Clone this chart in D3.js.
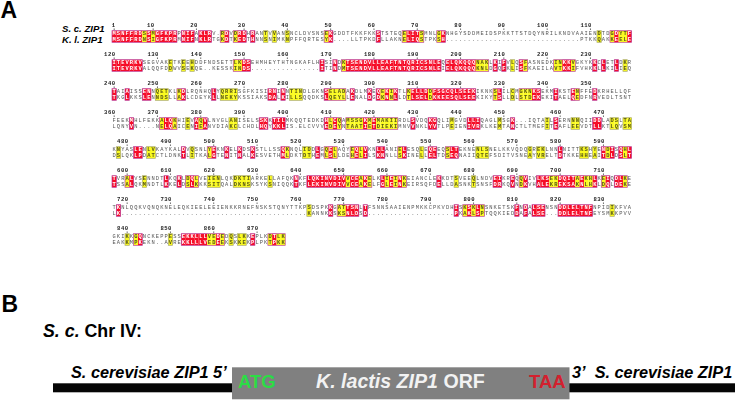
<!DOCTYPE html>
<html><head><meta charset="utf-8">
<script src="https://cdnjs.cloudflare.com/ajax/libs/d3/7.8.5/d3.min.js"></script>
<style>html,body{margin:0;padding:0;background:#fff}svg{display:block}</style>
</head><body><div id="c"></div>
<script>
// Sequences and conservation classes: R = identical, Y = similar, . = none
const seqSc = [
"MSNFFRDSSM GFKPRPNIFA KLRV.RDVDR DHRANTVVAN SNCLDVSNSE KGDDTFKKFK KSTSTEQELI TSMNLGKNHG YSDDMEIDSP KKTTSTDQYN RILKNDVAAI ENDTDGDYTF",
"ITEVRKVSEG VAKETKEEHD DFNDSETTLK DSEHMHEYTH TNGKAFLHIS INDKTSENDV LLEAFTNTQR ICSNLEQELQ KQQQNAKLKI FVLQSFASNE DKINKKVGKY KKCLETLDKR",
"TAIAISSENN QETKLKDLRQ NHQLYQRRIS GFKISIRNIN NTINDLGKNS ELADAKDLMK EQEKIKTLKE LLDDFSGCQL SEEKIKNKSL ILCMGKNKSE KMIKSTENFF EDKRHELLQF",
"FEEKMHLFEK KALQKHIEVA QVLNVGLANI SELSSKKTIL MKQQTEDKDH LCQAMSSGKM EMAKIIRDLS VDQKGQLIMG VDLLIQAGLM SGK...IQTA ILSERNNNQI IDDLADSLTA",
"KNYASLENLV KAYKALDVQS NLYEKNKELK DSKSTLLSSQ KNQLIDDLGQ ELAQYEQLVK NLLANIELES QLEQEEQSLT EKNENLSNEL KKVQDQGREK LNNLNITTKS HYENDISQHL",
"TVRALVSENN DTLKQKLDQL VEIENLQKDK TIARKELLAF QKNKFLQKIN VDIVVCEAKE LKLIEINKEI ANCLEKKDTS VEEQLNDVEI KREQQVIVLK SEKDQITAEK HLKEIQDLKE",
"TKNLQQKVQN QKNELEQKIE ELEEIENKKR NEFNSKSTQN YTTKPSDSPK KGATTSNLTF SNNSAAIENP MKKCPKVDHI SKSKLNSNKE TSKFNDALSE NSNDDLELTN FNPIDIKFVA",
"GKIKKGQNCK EPPESSEKKL LLVEDEDQSL KKEPLKDTLK"
];
const seqKl = [
"MSNFFRDNSI GFKPRMNIFN KLRTGKDTKE DTHNNSNIMK NPFFQRTESY K....LLTPK DFLLAKNELI QSTPKSH... .......... .......... ........PT KKQAKKEELE",
"ITEVRKVALQ QFDDWVSEKQ E..KESSKIN DS........ ........IT INDMTSENDV LLEAFTNTQR ICSNLEIELQ KQQQKNLDGQ FKLISFKAEI LAVTKKIFVH KKLLKILIEQ",
"TKGLKKSLEN NDSLLAKLCD EYKLLNEKYK SSIAKSDALK ILLSQQDKSL QEYLLENALD GDKNNLLDTL SELDKKEESQ LSEEKIKYTS LLDLSTDEKE KITAELQEDF NRVEDLTSNT",
"LQNYVN.... NELQAICENI EANVDIAKCL CHDLHQYKKL IS.ELCVVVE DEYNTAATIE TDIEKIMNVV NKLYVTLPEI ENIVRKLKEM TANCTLTMEF ITEAFLEEVD TLLKTLQVSM",
"DSLQKLPDAT CTLDNKTLIT KALGTENITN ALKESVETHM LDKTDTHEML SLLDEHELIL SKNNLLSKIN ELLELTDSEQ NAIIQTEFSD ITVSNEAYVR ELTDTKKEHH EAITDLDSLT",
"TSSALQKMND TLKKELDSLK KKSITQALDK NSKSYKSNIQ QKTKFLEKIN VDIVVCEAKE LFGLEINKEI RSQFDELLDA SNKTSNSFDR KQVNDKVHAL EKREKSAKNL HKLDQLDEKE",
"LK........ .......... .......... .......... .....KANNK KSKSNLDSD. .......... .........P KAKLSPTQQK IEDDAFALSE ...DDLELTN FEYSMKKPVV",
"EAKKMPKEKN ..AVREKKLL LVEDEEKSKK EKPLPKTPKK"
];
const classes = [
"RRRRRRRYRY RRRRR.RRR. RRR..YR.YR R.R..Y.Y.. Y........Y R......... .R.....YRR RY...YR... .......... .......... .......... ..Y..YRYYR",
"RRRRRRR... ...Y..Y.Y. ........YY RR........ ........R. .R.YRRRRRR RRRRRRRRRR RRRRRR.RRR RRRRYYY.R. R.Y.RY.... ..YYRRY... .R.R..R.Y.",
"R..R...RR. YYY..YR... ...R.YYYY. ......RR.R .YYY.....R YYYY.R...R .RYRYR..YR RRRYRRRRRR RRRR....YR ..Y.YYYRR. ..R...RY.. .R........",
"....R..... .YRRY..Y.R YR.....YY. ....RR.RRR .........R YRY.YYYYRY RYYYYY...R ...RR...Y. ..RRR....Y ..R....... Y.R...YY.. .RR..YY.YY",
".Y...RR.YY ......R.Y. ..YR..R..R ..R......R Y...YY.R.Y RY...YRYR. .RR...YR.. .Y.RR..YRR ....YYY... ......Y.YY ...R....YY .Y.RYR.RYR",
"R..YR..Y.. ..R..R.YRY ..YYY...YY YY....Y... ..R..RRRRR RRRRYRRYRY ..RYRYRY.. .....R...Y ...Y....RR ..R.YR..RR RYYRRRRYRY YR.YR.RRY.",
".R........ .......... .......... .......... .....Y.... R.YYRRR.R. .......... .........R .YRYRY.... ...R.R.RRR ...RRRRRRR R....Y....",
"...Y.YR... ...Y..RRRR RRYYRY.Y.Y Y.R...YRYY"
];
const tickLabels = [
[1,10,20,30,40,50,60,70,80,90,100,110],
[120,130,140,150,160,170,180,190,200,210,220,230],
[240,250,260,270,280,290,300,310,320,330,340,350],
[360,370,380,390,400,410,420,430,440,450,460,470],
[480,490,500,510,520,530,540,550,560,570,580,590],
[600,610,620,630,640,650,660,670,680,690,700,710],
[720,730,740,750,760,770,780,790,800,810,820,830],
[840,850,860,870]
];
const tickColumns = [
[1,10,20,31,41,51,61,71,81,91,101,111],
[1,11,21,31,41,51,61,71,81,91,101,111],
[1,11,21,31,41,51,61,71,81,91,101,111],
[1,11,21,31,41,51,61,71,81,91,104,114],
[4,14,24,34,44,54,64,74,84,94,104,114],
[4,14,24,34,44,54,64,74,84,94,104,114],
[4,14,24,34,44,54,64,74,84,94,104,114],
[4,14,24,34]
];
const colors = {red:"#f60a28", yellow:"#fbfb20", frameR:"#b8409c", frameY:"#a8a870",
                gray:"#808080", black:"#050505", atg:"#2bdc45", taa:"#d3202e"};

const W=736,H=400;
const svg=d3.select("#c").append("svg").attr("width",W).attr("height",H);
svg.append("defs").append("filter").attr("id","soft")
   .attr("x",0).attr("y",0).attr("width","100%").attr("height","100%")
   .append("feGaussianBlur").attr("stdDeviation",0.35);
const clean=s=>s.replace(/ /g,"");
const x=d3.scaleBand().domain(d3.range(1,121)).range([112,631.6]).paddingInner(0).paddingOuter(0);
const blockY=d3.scaleLinear().domain([0,7]).range([30.7,233.7]);
const CELL=5.8;
const SANS="'Liberation Sans',Arial,sans-serif";
const align=svg.append("g").attr("filter","url(#soft)");

seqSc.forEach((s,i)=>{
  const a=clean(s), b=clean(seqKl[i]), k=clean(classes[i]);
  const top=blockY(i);
  const g=align.append("g");
  const cols=d3.range(a.length).map(j=>({col:j+1,a:a[j],b:b[j]||" ",k:k[j]||"."}));
  g.selectAll("rect.cell").data(cols.filter(d=>d.k!==".")).join("rect")
    .attr("x",d=>x(d.col)).attr("y",top).attr("width",x.bandwidth()+.05).attr("height",CELL*2)
    .attr("fill",d=>d.k==="R"?colors.red:colors.yellow);
  const runs=[];let cur=null;
  cols.forEach(d=>{
    if(d.k==="."){cur=null;return;}
    if(!cur){cur={start:d.col,end:d.col,red:false};runs.push(cur);}
    cur.end=d.col; if(d.k==="R")cur.red=true;
  });
  g.selectAll("rect.frame").data(runs).join("rect")
    .attr("x",d=>x(d.start)).attr("y",top)
    .attr("width",d=>x(d.end)+x.bandwidth()-x(d.start)).attr("height",CELL*2)
    .attr("fill","none").attr("stroke",d=>d.red?colors.frameR:colors.frameY).attr("stroke-width",.7);
  [["a",0],["b",1]].forEach(([key,n])=>{
    g.append("g").selectAll("text").data(cols.filter(d=>d[key]!==" ")).join("text")
      .attr("x",d=>x(d.col)+x.bandwidth()/2).attr("y",top+CELL*n+4.4)
      .attr("text-anchor","middle").attr("font-family","'Liberation Mono',monospace")
      .attr("font-size",5.4)
      .attr("font-weight",d=>d.k==="."?"normal":"bold")
      .attr("fill",d=>d.k==="R"?"#fff":d.k==="Y"?"#55551a":"#555")
      .text(d=>d[key]);
  });
  const ticks=tickLabels[i].map((t,j)=>({t,col:tickColumns[i][j]}));
  g.append("g").selectAll("text").data(ticks).join("text")
    .attr("x",d=>x(d.col)+x.bandwidth()/2+1.5).attr("y",top-3.4)
    .attr("text-anchor","end").attr("font-family","'Liberation Mono',monospace")
    .attr("font-size",5.6).attr("font-weight","bold").attr("fill","#222").attr("letter-spacing",.5)
    .text(d=>d.t);
  g.append("g").selectAll("circle").data(ticks).join("circle")
    .attr("cx",d=>x(d.col)+x.bandwidth()/2).attr("cy",top-1.6).attr("r",.6).attr("fill","#222");
});

function label(tx,ty,size,fill,parts,anchor){
  const t=svg.append("text").attr("x",tx).attr("y",ty).attr("font-family",SANS)
    .attr("font-size",size).attr("font-weight","bold").attr("fill",fill)
    .attr("text-anchor",anchor||"start");
  parts.forEach(p=>t.append("tspan").attr("font-style",p[1]?"italic":"normal").text(p[0]));
}
label(0.5,18,23,"#000",[["A",0]]);
label(1.5,312,23,"#000",[["B",0]]);
label(62,31.7,9.6,"#000",[["S. c. ZIP1",1]]);
label(62,43.3,9.6,"#000",[["K. l. ZIP1",1]]);
label(43,337,17.8,"#000",[["S. c.",1],[" Chr IV:",0]]);

// Part B construct
svg.append("rect").attr("x",53).attr("y",383.3).attr("width",180).attr("height",9).attr("fill",colors.black);
svg.append("rect").attr("x",569).attr("y",383.3).attr("width",166).attr("height",9).attr("fill",colors.black);
svg.append("rect").attr("x",232).attr("y",367.3).attr("width",337.5).attr("height",32).attr("fill",colors.gray);
label(71,378,16.3,"#000",[["S. cerevisiae ZIP1 5\u2019",1]]);
label(572,378,16.3,"#000",[["3\u2019\u00A0\u00A0",1],["S. cerevisiae ZIP1",1]]);
label(238,388,18.5,colors.atg,[["ATG",0]]);
label(529,388,18.5,colors.taa,[["TAA",0]]);
label(316,388,19.6,"#f2f2f2",[["K. lactis ZIP1",1],[" ORF",0]]);
</script></body></html>
